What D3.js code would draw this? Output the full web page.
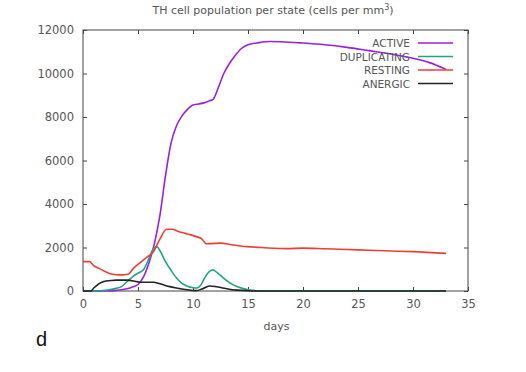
<!DOCTYPE html>
<html>
<head>
<meta charset="utf-8">
<script src="https://cdn.jsdelivr.net/npm/d3@7"></script>
<style>
  body { margin: 0; background: #fff; }
  text { font-family: "DejaVu Sans", sans-serif; fill: #555; }
</style>
</head>
<body>
<div class="plot"></div>
<script>
// Series values (day, cells per mm3)
const activeDays = [0, 2, 3, 4, 4.5, 5, 5.5, 6, 6.5, 7, 7.5, 8, 8.5, 9, 9.5, 10, 10.5, 11, 11.5, 11.8, 12.3, 12.8, 13.3, 13.8, 14.4, 15, 16, 17, 18, 20, 22, 24, 26, 28, 30, 31.5, 33];
const activeVals = [0, 5, 30, 100, 180, 300, 650, 1300, 2200, 3500, 5300, 6800, 7600, 8050, 8350, 8550, 8600, 8650, 8750, 8800, 9350, 10000, 10450, 10800, 11150, 11320, 11420, 11470, 11460, 11400, 11320, 11200, 11050, 10900, 10700, 10500, 10190];

const dupDays = [0, 1.5, 2, 3, 3.5, 4, 4.5, 5, 5.5, 6, 6.3, 6.7, 7, 7.5, 8, 8.5, 9, 9.5, 10, 10.3, 10.7, 11, 11.4, 11.8, 12.3, 13, 13.7, 14.5, 15.2, 16, 17, 20, 25, 30, 33];
const dupVals = [0, 0, 30, 120, 200, 430, 650, 820, 980, 1500, 1850, 2040, 1850, 1350, 950, 600, 350, 220, 150, 130, 260, 550, 850, 970, 800, 500, 270, 120, 45, 10, 0, 0, 0, 0, 0];

const restDays = [0, 0.6, 1, 1.5, 2, 2.5, 3, 3.5, 4.1, 4.6, 5.2, 5.8, 6.4, 7, 7.6, 8.1, 8.6, 9.3, 9.8, 10.3, 10.8, 11.2, 11.7, 12.5, 13.5, 14.9, 16.5, 18.5, 20, 22, 25, 28, 30, 33];
const restVals = [1350, 1350, 1150, 1030, 900, 790, 750, 740, 770, 1050, 1300, 1550, 1800, 2400, 2840, 2840, 2750, 2650, 2580, 2500, 2400, 2170, 2180, 2200, 2130, 2040, 1990, 1950, 1970, 1940, 1890, 1840, 1810, 1730];

const anerDays = [0, 0.7, 1, 1.4, 1.9, 2.5, 3, 4, 5, 5.5, 6.4, 7, 7.9, 8.5, 9.3, 10.3, 10.8, 11.5, 12, 12.6, 13.3, 14, 15, 16, 20, 25, 33];
const anerVals = [0, 0, 150, 320, 440, 480, 500, 500, 420, 400, 400, 330, 200, 140, 70, 15, 90, 230, 210, 150, 80, 40, 10, 0, 0, 0, 0];

const seriesNames = ["ACTIVE", "DUPLICATING", "RESTING", "ANERGIC"];
const seriesColors = ["#9b1fe0", "#1fa57f", "#ef3f33", "#222222"];

const xTicks = [0, 5, 10, 15, 20, 25, 30, 35];
const yTicks = [0, 2000, 4000, 6000, 8000, 10000, 12000];

const W = 526, H = 372;
const margin = {top: 30, right: 58, bottom: 81, left: 83};

const svg = d3.select(".plot")
    .append("svg")
        .attr("width", W)
        .attr("height", H);

const x = d3.scaleLinear().domain([0, 35]).range([margin.left, W - margin.right]);
const y = d3.scaleLinear().domain([0, 12000]).range([H - margin.bottom, margin.top]);

// Title with superscript
const title = svg.append("text")
    .attr("x", 273)
    .attr("y", 14)
    .attr("text-anchor", "middle")
    .style("font-size", "11px");
title.append("tspan").text("TH cell population per state (cells per mm");
title.append("tspan").attr("dy", -4).style("font-size", "8px").text("3");
title.append("tspan").attr("dy", 4).text(")");

// Axes: ticks pointing inward, mirrored on all sides
const axisStyle = g => {
    g.select(".domain").remove();
    g.selectAll("line").attr("stroke", "#444");
    g.selectAll("text").style("font-size", "11.5px").attr("fill", "#555");
};

svg.append("g")
    .attr("transform", `translate(0,${y(0)})`)
    .call(d3.axisBottom(x).tickValues(xTicks).tickFormat(d3.format("d")).tickSizeInner(-4).tickSizeOuter(0).tickPadding(9))
    .call(axisStyle);

svg.append("g")
    .attr("transform", `translate(${x(0)},0)`)
    .call(d3.axisLeft(y).tickValues(yTicks).tickFormat(d3.format("d")).tickSizeInner(-4).tickSizeOuter(0).tickPadding(9))
    .call(axisStyle);

svg.append("g")
    .attr("transform", `translate(0,${y(12000)})`)
    .call(d3.axisTop(x).tickValues(xTicks).tickSizeInner(-4).tickSizeOuter(0).tickFormat(""))
    .call(axisStyle);

svg.append("g")
    .attr("transform", `translate(${x(35)},0)`)
    .call(d3.axisRight(y).tickValues(yTicks).tickSizeInner(-4).tickSizeOuter(0).tickFormat(""))
    .call(axisStyle);

// Border
svg.append("rect")
    .attr("x", x(0))
    .attr("y", y(12000))
    .attr("width", x(35) - x(0))
    .attr("height", y(0) - y(12000))
    .attr("fill", "none")
    .attr("stroke", "#444")
    .attr("stroke-width", 1);

// Axis label
svg.append("text")
    .attr("x", (x(0) + x(35)) / 2 + 1)
    .attr("y", 330)
    .attr("text-anchor", "middle")
    .style("font-size", "11px")
    .text("days");

// Lines
const line = d3.line()
    .x(d => x(d[0]))
    .y(d => y(d[1]))
    .curve(d3.curveMonotoneX);

const seriesData = [
    d3.zip(activeDays, activeVals),
    d3.zip(dupDays, dupVals),
    d3.zip(restDays, restVals),
    d3.zip(anerDays, anerVals)
];

// draw in gnuplot order (later series on top)
seriesData.forEach((data, i) => {
    svg.append("path")
        .datum(data)
        .attr("fill", "none")
        .attr("stroke", seriesColors[i])
        .attr("stroke-width", 1.6)
        .attr("d", line);
});

// Legend
const legend = svg.append("g");
seriesNames.forEach((name, i) => {
    const ly = 43 + i * 13.5;
    legend.append("text")
        .attr("x", 410)
        .attr("y", ly + 4)
        .attr("text-anchor", "end")
        .style("font-size", "10.5px")
        .text(name);
    legend.append("line")
        .attr("x1", 418)
        .attr("x2", 453)
        .attr("y1", ly)
        .attr("y2", ly)
        .attr("stroke", seriesColors[i])
        .attr("stroke-width", 1.6);
});

// Panel letter
svg.append("text")
    .attr("x", 36)
    .attr("y", 346)
    .style("font-size", "20px")
    .style("font-family", "Liberation Sans, sans-serif")
    .style("fill", "#111")
    .text("d");
</script>
</body>
</html>
